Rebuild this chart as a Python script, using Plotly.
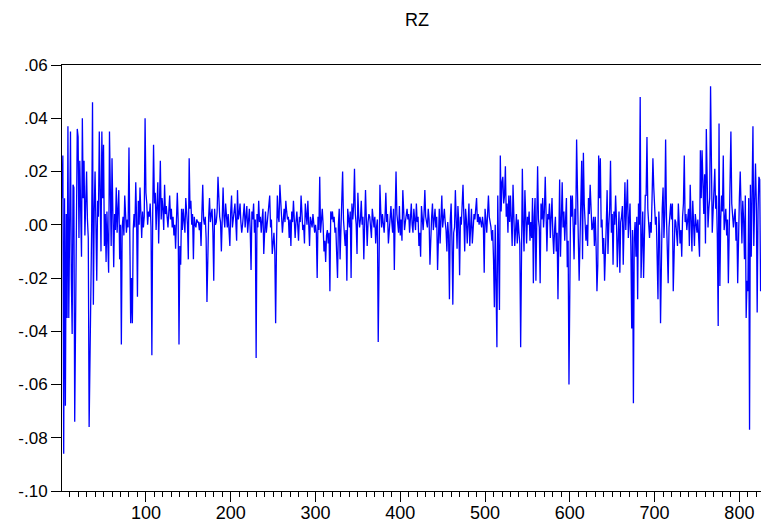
import plotly.graph_objects as go

# RZ series, values in thousandths (0.001)
rz_001_100 = [
    10, 26, -86, 10, -68, 4, -35, 37, -35, 0,
    35, -20, -41, 15, 14, -74, -42, -10, 36, 33,
    -5, 24, 5, -12, 40, 10, 24, -4, 8, 20,
    2, -5, -76, -55, -20, -1, 46, -30, 5, 20,
    0, -21, 9, 3, 35, 15, -10, 35, 10, 30,
    -8, 4, -14, 5, -3, -18, 35, 10, -8, 25,
    2, -16, 4, -2, 14, -3, 6, 13, -13, 0,
    -45, -1, 3, -4, 11, 4, -3, 2, -1, 29,
    6, -37, -20, -37, -2, 4, -1, 16, 2, -27,
    9, 0, 14, 3, -5, 5, -1, 3, 40, 12,
]
rz_101_200 = [
    8, 0, 5, 3, 8, -1, -49, 4, 30, 8,
    12, -2, 5, 16, -7, 6, 24, 2, 10, 6,
    -2, 15, 4, 7, 0, -1, 5, 11, 2, 6,
    -1, 3, -4, 0, -9, 3, 12, 2, -45, -8,
    -15, 6, -2, 6, 0, -3, 10, 5, 0, -13,
    25, 6, 9, 0, 4, -13, 3, 0, -1, 2,
    1, 1, -2, 1, -8, 4, 15, 2, 0, 3,
    -5, -29, -1, 3, 10, 1, 4, 6, -3, -21,
    6, 0, 1, 5, 18, 8, 3, 1, -10, 2,
    14, 3, -1, 8, 2, -1, 4, -2, -8, 5,
]
rz_201_300 = [
    11, -1, 2, 5, 8, 1, -6, 13, 2, 4,
    8, 1, -3, 0, 5, 8, -1, 3, 7, -3,
    2, 6, -2, -17, 5, 2, 8, -3, 2, -50,
    4, -1, 9, 1, 3, -3, 2, 6, -11, 2,
    5, -3, 1, 3, 6, 11, -1, 2, -11, -8,
    -3, -10, -37, -8, 11, 3, 1, 15, 6, 3,
    -3, 2, 6, 1, 9, 5, 2, 3, -5, 2,
    -8, 5, 1, 9, 2, -5, 1, 5, 0, -6,
    3, 1, 11, 4, -2, 0, -7, 8, 3, 0,
    9, 2, -8, 3, 1, -1, 4, 1, -3, 0,
]
rz_301_400 = [
    -3, -20, 3, -2, 18, -3, 4, 6, 0, -10,
    -6, -14, -4, -2, -7, -3, -25, 5, 2, 5,
    1, 3, -3, -1, -11, -20, 0, 6, -13, 2,
    8, 20, 2, -6, -8, -2, -21, 6, 2, -1,
    5, -20, 8, 2, 7, 21, 4, 0, -11, 12,
    3, -1, 2, 9, 0, 3, -13, 4, 13, 2,
    -8, 1, 4, 3, 0, -5, 6, 2, -1, 3,
    -7, -1, 2, -44, 1, 15, 5, -1, 4, 1,
    -3, 3, 12, 1, 4, -7, -3, 2, 7, 1,
    -3, 6, -17, 4, 20, 4, 0, -3, 7, -4,
]
rz_401_500 = [
    2, -6, 13, 4, -2, 1, 3, 6, 2, 4,
    -3, 3, 8, 0, -3, 6, 2, -2, 8, 1,
    3, -8, -3, -12, 7, 2, -2, 4, 13, 3,
    0, -1, 6, 2, -15, -1, 3, 8, -2, 2,
    6, -1, 3, -17, 2, 6, -7, 4, 11, -1,
    2, 6, 1, -2, -10, 1, -4, -28, 2, 8,
    -6, -30, -3, -1, 13, 2, -9, 7, 1, -19,
    3, 0, 11, 15, 3, -10, 6, 2, -7, 3,
    8, -8, 2, 6, -7, 1, 4, 2, 6, 10,
    1, 4, 0, 3, 1, -1, 3, 0, -18, 6,
]
rz_501_600 = [
    2, -3, 4, 11, 3, 1, -1, -6, -2, -13,
    -31, 0, -20, -46, 11, -10, -32, 26, 5, 16,
    18, 8, 11, 22, 3, 8, -3, 11, 1, 11,
    3, -8, 15, 2, -8, -2, 4, -7, 2, -3,
    -7, -46, 5, 21, 0, -10, 13, 2, -7, 3,
    0, 5, -6, 1, -5, 10, -22, 3, 10, -21,
    -1, 22, 2, -1, -22, 8, 2, 10, -1, 5,
    18, 0, -10, 4, 2, 8, -5, 3, 10, -4,
    -11, -2, 3, -10, -3, -28, 4, 17, -12, 3,
    16, -1, 5, -6, 3, 10, -16, -6, -60, -5,
]
rz_601_700 = [
    11, 3, 11, -1, -13, 6, 0, 32, 6, -5,
    -21, -1, 5, 24, -13, 27, 8, 3, -6, 0,
    -8, 10, 4, 15, 2, -2, -1, 3, -8, 3,
    -8, -25, -15, 26, 10, 25, -1, 2, -11, -5,
    -21, -13, 0, 13, -11, 0, 6, 24, -3, 4,
    -15, 5, 0, 11, 2, -16, 1, 5, -18, 1,
    3, 7, -15, 2, 16, -2, 5, 17, -5, 2,
    8, -8, -39, -2, -67, -5, 1, -12, 3, -28,
    8, 0, 48, -20, -2, 5, -20, 3, 11, 11,
    33, 6, -3, -5, 1, -3, 10, 25, 14, 6,
]
rz_701_800 = [
    0, 3, -10, -28, 5, -4, -37, 1, 6, 14,
    -5, 4, 32, 3, -6, -22, -1, 4, 8, 2,
    8, -25, -13, 2, 1, -3, -8, 8, 2, -7,
    -2, -12, 3, 8, 26, 1, 4, -2, 2, 6,
    -8, 15, 2, -10, 9, 0, -8, 4, 1, -3,
    2, -7, -12, 28, 10, 28, 11, 4, 19, -7,
    36, 5, -1, 6, 10, 52, 11, -3, 5, 18,
    21, 6, 11, -5, -38, 38, -23, 2, 11, 5,
    26, -2, 3, 6, -4, 2, -22, 4, 11, 35,
    8, 2, -1, 3, 6, -6, 1, -22, 3, 10,
]
rz_801_825 = [
    20, 5, -7, 9, 2, -13, 11, -35, -21, -25,
    10, -77, 15, -12, 5, 37, -8, 4, 23, 8,
    -33, 5, 18, 17, -25,
]

y_ticks = [-0.10, -0.08, -0.06, -0.04, -0.02, 0.00, 0.02, 0.04, 0.06]
y_labels = ["-.10", "-.08", "-.06", "-.04", "-.02", ".00", ".02", ".04", ".06"]
x_ticks = [100, 200, 300, 400, 500, 600, 700, 800]

rz = [v / 1000 for v in (rz_001_100 + rz_101_200 + rz_201_300 + rz_301_400 + rz_401_500
                         + rz_501_600 + rz_601_700 + rz_701_800 + rz_801_825)]
obs = list(range(1, len(rz) + 1))

fig = go.Figure()
fig.add_trace(go.Scatter(x=obs, y=rz, mode="lines",
                         line=dict(color="#0000ff", width=1.3),
                         showlegend=False))

fig.update_layout(
    width=761, height=523,
    margin=dict(l=62, r=0, t=65, b=32, autoexpand=False),
    paper_bgcolor="white", plot_bgcolor="white",
    font=dict(family="Liberation Sans, Arial, sans-serif", size=17, color="black"),
    title=dict(text="RZ", x=0.548, xanchor="center", y=0.962, yanchor="middle",
               font=dict(size=18)),
)
fig.update_xaxes(
    range=[1, 825.5], tickvals=x_ticks, ticks="outside", ticklen=10, tickcolor="black",
    tickfont=dict(size=18), automargin=False, ticklabelstandoff=-5,
    showline=True, linecolor="black", linewidth=1, mirror=True,
    showgrid=False, zeroline=False,
    minor=dict(dtick=10, tick0=0, ticks="outside", ticklen=5, tickcolor="black"),
)
fig.update_yaxes(
    range=[-0.10, 0.06], tickvals=y_ticks, ticktext=y_labels,
    ticks="outside", ticklen=10, tickcolor="black", automargin=False,
    showline=True, linecolor="black", linewidth=1,
    showgrid=False, zeroline=False,
)

# drop the default page margin so the 761x523 figure fills the window exactly
fig.write_html("out.html", config={"displayModeBar": False},
               post_script="document.body.style.margin='0';document.body.style.overflow='hidden';")
